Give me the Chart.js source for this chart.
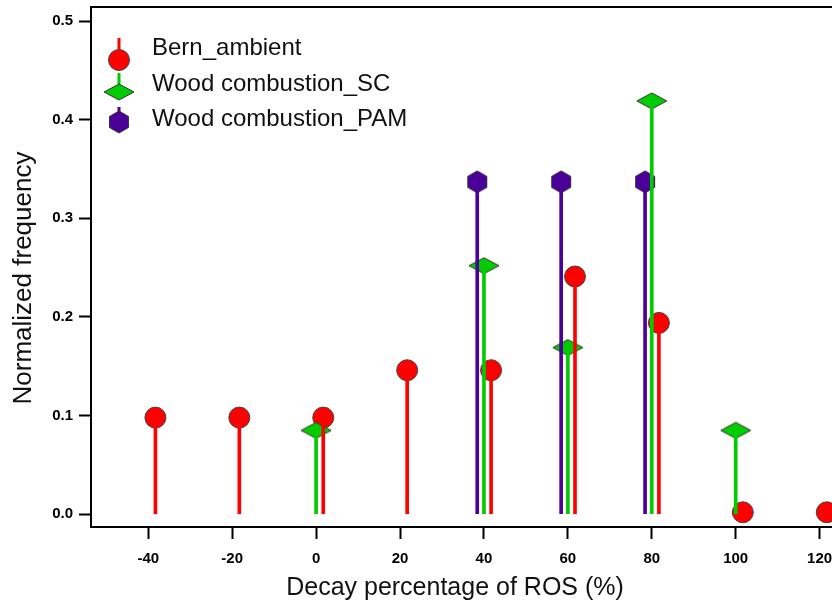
<!DOCTYPE html>
<html>
<head>
<meta charset="utf-8">
<script src="https://cdn.jsdelivr.net/npm/chart.js@4/dist/chart.umd.min.js"></script>
<style>
  html, body { margin:0; padding:0; background:#fff; }
  #wrap { position:relative; width:832px; height:606px; }
</style>
</head>
<body>
<div id="wrap"><canvas id="chart" width="832" height="606"></canvas></div>
<script>
// values
const X_TICKS = [-40, -20, 0, 20, 40, 60, 80, 100, 120]
const Y_TICKS = [0, 0.1, 0.2, 0.3, 0.4, 0.5]

const BERN_BINS = [-40, -20, 0, 20, 40, 60, 80, 100, 120]
const BERN_VALS = [0.098, 0.098, 0.098, 0.146, 0.146, 0.241, 0.194, 0.002, 0.002]

const SC_BINS = [0, 40, 60, 80, 100]
const SC_VALS = [0.085, 0.252, 0.169, 0.419, 0.085]

const PAM_BINS = [40, 60, 80]
const PAM_VALS = [0.337, 0.337, 0.337]

const LABELS = ['Bern_ambient', 'Wood combustion_SC', 'Wood combustion_PAM']

const RED = '#ff0000', GREEN = '#00cc00', PURPLE = '#4b0099'
const FONT = '"Liberation Sans", Arial, sans-serif'

// little canvases used as point styles
function _diamond(w, h, fill) {
  const c = document.createElement('canvas')
  c.width = w + 2; c.height = h + 2
  const g = c.getContext('2d')
  g.beginPath()
  g.moveTo(1 + w/2, 1); g.lineTo(1 + w, 1 + h/2); g.lineTo(1 + w/2, 1 + h); g.lineTo(1, 1 + h/2)
  g.closePath()
  g.fillStyle = fill; g.fill()
  g.strokeStyle = '#333'; g.lineWidth = 1; g.stroke()
  return c
}
function _hexagon(r, fill) {
  const w = Math.ceil(2 * r * Math.cos(Math.PI/6)) + 2, h = 2 * r + 2
  const c = document.createElement('canvas')
  c.width = w; c.height = h
  const g = c.getContext('2d')
  g.beginPath()
  for (let i = 0; i < 6; i++) {
    const a = -Math.PI/2 + i * Math.PI/3
    const px = w/2 + r * Math.cos(a), py = h/2 + r * Math.sin(a)
    i ? g.lineTo(px, py) : g.moveTo(px, py)
  }
  g.closePath()
  g.fillStyle = fill; g.fill()
  g.strokeStyle = '#333'; g.lineWidth = 1; g.stroke()
  return c
}
const DIAMOND = _diamond(30, 16, GREEN)
const HEXAGON = _hexagon(11, PURPLE)

const pts = (bins, vals, shift) => bins.map((b, i) => ({ x: b + shift, y: vals[i] }))

const SERIES = [
  { label: LABELS[0], color: RED,    data: pts(BERN_BINS, BERN_VALS, 1.7),  style: 'circle', radius: 10.5, order: 3 },
  { label: LABELS[1], color: GREEN,  data: pts(SC_BINS, SC_VALS, 0),        style: DIAMOND,  radius: 10,   order: 2 },
  { label: LABELS[2], color: PURPLE, data: pts(PAM_BINS, PAM_VALS, -1.6),   style: HEXAGON,  radius: 10,   order: 1 },
]

const datasets = []
SERIES.forEach(s => {
  // stems
  datasets.push({
    type: 'bar', label: s.label + ' stem', data: s.data,
    backgroundColor: s.color, borderWidth: 0, barThickness: 3, grouped: false, order: 0,
  })
  // markers
  datasets.push({
    type: 'scatter', label: s.label, data: s.data, showLine: false,
    pointStyle: s.style, pointRadius: s.radius, pointHoverRadius: s.radius,
    backgroundColor: s.color, borderColor: '#444', borderWidth: 1, order: s.order,
  })
})

const frameAndText = {
  id: 'frameAndText',
  afterDraw(chart) {
    const { ctx, chartArea: a } = chart
    ctx.save()
    // top frame line
    ctx.strokeStyle = '#000'; ctx.lineWidth = 2
    ctx.beginPath(); ctx.moveTo(a.left - 1, a.top); ctx.lineTo(a.right, a.top); ctx.stroke()

    // axis titles
    ctx.fillStyle = '#111'
    ctx.textAlign = 'center'; ctx.textBaseline = 'middle'
    ctx.font = `25px ${FONT}`
    ctx.fillText('Decay percentage of ROS (%)', 455, 588)
    ctx.translate(24, 278)
    ctx.rotate(-Math.PI/2)
    ctx.font = `26px ${FONT}`
    ctx.fillText('Normalized frequency', 0, 0)
    ctx.setTransform(1, 0, 0, 1, 0, 0)

    // legend
    const rows = [
      { text: LABELS[0], base: 55,  mk: 60,  top: 38,  color: RED },
      { text: LABELS[1], base: 91,  mk: 92,  top: 73,  color: GREEN },
      { text: LABELS[2], base: 126, mk: 122, top: 107, color: PURPLE },
    ]
    const mx = 119
    rows.forEach((r, i) => {
      ctx.fillStyle = r.color
      ctx.fillRect(mx - 1.5, r.top, 3, r.mk - r.top)
      if (i === 0) {
        ctx.beginPath(); ctx.arc(mx, r.mk, 10.5, 0, Math.PI * 2)
        ctx.fill(); ctx.strokeStyle = '#444'; ctx.lineWidth = 1; ctx.stroke()
      } else {
        const img = i === 1 ? DIAMOND : HEXAGON
        ctx.drawImage(img, mx - img.width/2, r.mk - img.height/2)
      }
      ctx.fillStyle = '#111'
      ctx.textAlign = 'left'; ctx.textBaseline = 'alphabetic'
      ctx.font = `24px ${FONT}`
      ctx.fillText(r.text, 152, r.base)
    })
    ctx.restore()
  },
}

const tickFont = { family: FONT, size: 15, weight: 'bold' }
const axisGrid = { drawOnChartArea: false, drawTicks: true, tickLength: 12, tickWidth: 2, tickColor: '#000', offset: false }

new Chart(document.getElementById('chart'), {
  type: 'scatter',
  data: { datasets },
  options: {
    responsive: false, animation: false,
    layout: { autoPadding: false, padding: { top: 7, left: 0, right: 0, bottom: 0 } },
    plugins: { legend: { display: false }, tooltip: { enabled: false } },
    scales: {
      x: {
        type: 'linear', min: -53.65, max: 122.95, offset: false,
        afterBuildTicks: s => { s.ticks = X_TICKS.map(v => ({ value: v })) },
        afterFit: s => { s.height = 79; s.paddingLeft = 0; s.paddingRight = 0 },
        ticks: { font: tickFont, color: '#000', padding: 11, maxRotation: 0, autoSkip: false, callback: v => String(v) },
        grid: axisGrid,
        border: { display: true, color: '#000', width: 2 },
      },
      y: {
        type: 'linear', min: -0.0129, max: 0.5142, offset: false,
        afterBuildTicks: s => { s.ticks = Y_TICKS.map(v => ({ value: v })) },
        afterFit: s => { s.width = 91; s.paddingTop = 0; s.paddingBottom = 0 },
        ticks: { font: tickFont, color: '#000', padding: 6, callback: v => v.toFixed(1) },
        grid: axisGrid,
        border: { display: true, color: '#000', width: 2 },
      },
    },
  },
  plugins: [frameAndText],
})
</script>
</body>
</html>
